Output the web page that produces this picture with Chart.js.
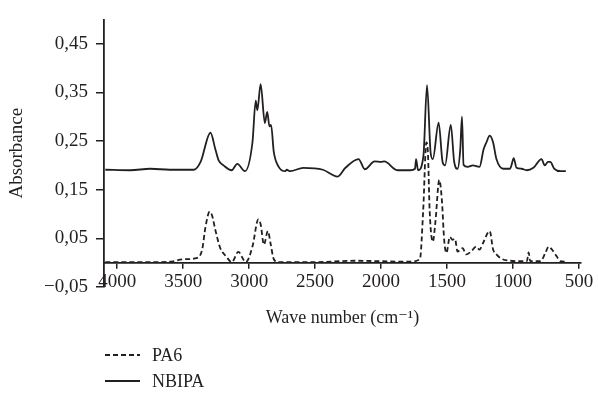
<!DOCTYPE html>
<html>
<head>
<meta charset="utf-8">
<script src="https://cdn.jsdelivr.net/npm/chart.js@4/dist/chart.umd.min.js"></script>
<style>
  html, body { margin: 0; padding: 0; background: #fff; }
  #wrap { width: 598px; height: 398px; }
</style>
</head>
<body>
<div id="wrap"><canvas id="chart" width="598" height="398"></canvas></div>
<script>
// FTIR spectra (wave number in cm-1, absorbance)
const pa6Wn  = [4090, 3800, 3600, 3493, 3393, 3356, 3331, 3299, 3281, 3256, 3219, 3174, 3132, 3082, 3025, 2975, 2930, 2913, 2888, 2858, 2838, 2813, 2776, 2500, 2200, 2000, 1800, 1706, 1681, 1657, 1645, 1632, 1608, 1588, 1559, 1539, 1522, 1505, 1479, 1459, 1440, 1421, 1382, 1356, 1318, 1279, 1254, 1228, 1177, 1151, 1126, 1087, 1023, 946, 895, 882, 870, 860, 792, 755, 730, 705, 667, 642, 603];
const pa6Abs = [0.001, 0.001, 0.002, 0.007, 0.010, 0.027, 0.073, 0.105, 0.097, 0.067, 0.030, 0.013, 0.001, 0.022, 0.001, 0.033, 0.089, 0.079, 0.037, 0.065, 0.040, 0.007, 0.001, 0.001, 0.004, 0.003, 0.002, 0.007, 0.107, 0.247, 0.225, 0.107, 0.043, 0.085, 0.170, 0.127, 0.047, 0.020, 0.053, 0.047, 0.049, 0.023, 0.030, 0.017, 0.023, 0.033, 0.027, 0.040, 0.065, 0.027, 0.017, 0.008, 0.004, 0.003, 0.003, 0.021, 0.003, 0.003, 0.003, 0.020, 0.033, 0.027, 0.012, 0.003, 0.002];

const nbipaWn  = [4090, 3900, 3750, 3600, 3418, 3368, 3293, 3256, 3231, 3194, 3132, 3090, 3032, 2975, 2950, 2938, 2913, 2881, 2863, 2846, 2834, 2813, 2776, 2726, 2715, 2689, 2590, 2441, 2330, 2270, 2171, 2123, 2049, 2000, 1976, 1877, 1779, 1743, 1735, 1720, 1679, 1652, 1625, 1608, 1564, 1534, 1515, 1472, 1446, 1421, 1400, 1387, 1375, 1344, 1305, 1254, 1223, 1202, 1177, 1151, 1126, 1074, 1023, 1002, 995, 974, 935, 897, 846, 784, 760, 735, 718, 687, 638, 600];
const nbipaAbs = [0.191, 0.190, 0.193, 0.191, 0.191, 0.207, 0.267, 0.233, 0.210, 0.200, 0.190, 0.203, 0.188, 0.247, 0.333, 0.313, 0.367, 0.287, 0.310, 0.280, 0.283, 0.227, 0.197, 0.188, 0.191, 0.188, 0.195, 0.191, 0.177, 0.195, 0.213, 0.192, 0.208, 0.207, 0.208, 0.190, 0.190, 0.193, 0.213, 0.190, 0.220, 0.365, 0.227, 0.213, 0.288, 0.207, 0.200, 0.283, 0.207, 0.193, 0.233, 0.300, 0.201, 0.197, 0.200, 0.197, 0.233, 0.247, 0.261, 0.247, 0.213, 0.193, 0.193, 0.210, 0.215, 0.195, 0.193, 0.190, 0.195, 0.213, 0.200, 0.207, 0.207, 0.193, 0.188, 0.188];

const seriesNames = ['PA6', 'NBIPA'];
const xTicks = [4000, 3500, 3000, 2500, 2000, 1500, 1000, 500];
const yTicks = [-0.05, 0.05, 0.15, 0.25, 0.35, 0.45];

const ink = '#231f20';
const serif = "'Liberation Serif', 'DejaVu Serif', serif";

function toPoints(xs, ys) {
  return xs.map((x, i) => ({ x: x, y: ys[i] }));
}

// legend drawn as two stacked rows under the axis title
const stackedLegend = {
  id: 'stackedLegend',
  afterDraw(chart) {
    const ctx = chart.ctx;
    const rows = [355, 381];
    ctx.save();
    chart.data.datasets.forEach((ds, i) => {
      const y = rows[i];
      ctx.strokeStyle = ds.borderColor;
      ctx.lineWidth = ds.borderWidth;
      ctx.setLineDash(ds.borderDash || []);
      ctx.beginPath();
      ctx.moveTo(105, y);
      ctx.lineTo(140, y);
      ctx.stroke();
      ctx.setLineDash([]);
      ctx.fillStyle = ink;
      ctx.font = '18px ' + serif;
      ctx.textBaseline = 'middle';
      ctx.fillText(ds.label, 152, y + 1);
    });
    ctx.restore();
  }
};

new Chart(document.getElementById('chart'), {
  type: 'line',
  data: {
    datasets: [
      {
        label: seriesNames[0],
        data: toPoints(pa6Wn, pa6Abs),
        borderColor: ink,
        borderWidth: 1.8,
        borderDash: [5, 3],
        pointRadius: 0,
        cubicInterpolationMode: 'monotone'
      },
      {
        label: seriesNames[1],
        data: toPoints(nbipaWn, nbipaAbs),
        borderColor: ink,
        borderWidth: 1.8,
        pointRadius: 0,
        cubicInterpolationMode: 'monotone'
      }
    ]
  },
  options: {
    responsive: false,
    animation: false,
    layout: { padding: { left: 4, right: 17, top: 12, bottom: 111 } },
    plugins: {
      legend: { display: false },
      tooltip: { enabled: false }
    },
    scales: {
      x: {
        type: 'linear',
        reverse: true,
        min: 485,
        max: 4100,
        position: { y: 0 },
        afterBuildTicks: (scale) => { scale.ticks = xTicks.map(v => ({ value: v })); },
        grid: { drawOnChartArea: false, drawTicks: true, tickLength: 5, color: ink, lineWidth: 1.5 },
        border: { display: true, color: ink, width: 1.8 },
        ticks: {
          autoSkip: false,
          maxRotation: 0,
          padding: 3,
          color: ink,
          font: { family: serif, size: 19 },
          callback: (v) => String(v)
        },
        title: {
          display: true,
          text: 'Wave number (cm⁻¹)',
          color: ink,
          font: { family: serif, size: 18 },
          padding: { top: 11, bottom: 0 }
        }
      },
      y: {
        type: 'linear',
        min: -0.05,
        max: 0.5,
        afterBuildTicks: (scale) => { scale.ticks = yTicks.map(v => ({ value: v })); },
        afterFit: (scale) => { scale.width = 100; },
        grid: { drawOnChartArea: false, drawTicks: true, tickLength: 8, color: ink, lineWidth: 1.5 },
        border: { display: true, color: ink, width: 1.8 },
        ticks: {
          padding: 8,
          color: ink,
          font: { family: serif, size: 19 },
          callback: (v) => v.toFixed(2).replace('.', ',').replace('-', '\u2212')
        },
        title: {
          display: true,
          text: 'Absorbance',
          color: ink,
          font: { family: serif, size: 19 },
          padding: { top: 2, bottom: 0 }
        }
      }
    }
  },
  plugins: [stackedLegend]
});
</script>
</body>
</html>
